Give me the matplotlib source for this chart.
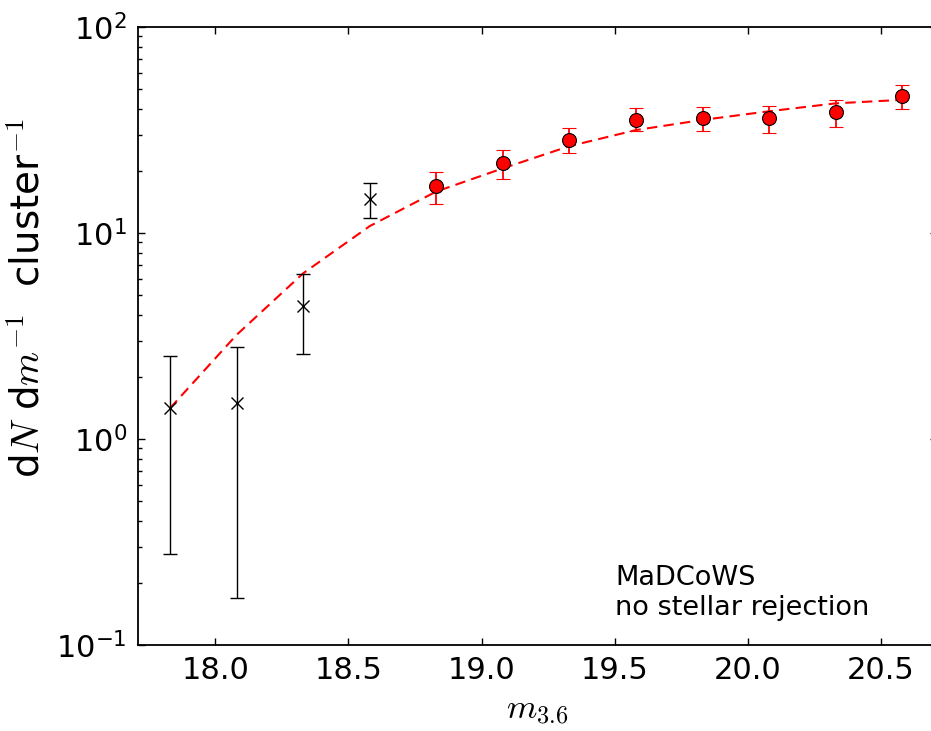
import numpy as np
import matplotlib
matplotlib.use('Agg')
import matplotlib.pyplot as plt

plt.rcParams['mathtext.fontset'] = 'cm'
plt.rcParams['font.family'] = 'DejaVu Sans'

# magnitude bins
m_excl = [17.83, 18.08, 18.33, 18.58]  # bins not used in the fit
n_excl = [1.41, 1.49, 4.42, 14.7]
hi_excl = [2.54, 2.81, 6.31, 17.5]
lo_excl = [0.275, 0.17, 2.59, 11.8]

m_fit = [18.83, 19.08, 19.33, 19.58, 19.83, 20.08, 20.33, 20.58]
n_fit = [16.9, 21.9, 28.3, 35.4, 36.2, 36.1, 38.5, 46.2]
hi_fit = [19.8, 25.3, 32.4, 40.5, 40.9, 41.4, 44.3, 52.5]
lo_fit = [13.8, 18.3, 24.4, 31.3, 31.3, 30.7, 32.7, 40.0]

# model curve evaluated at the bin centres
m_model = [17.83, 18.08, 18.33, 18.58, 18.83, 19.08, 19.33, 19.58, 19.83, 20.08, 20.33, 20.58]
n_model = [1.41, 3.2, 6.37, 10.8, 15.9, 20.6, 26.4, 31.6, 35.4, 39.0, 42.6, 44.3]

n_excl = np.array(n_excl)
n_fit = np.array(n_fit)
err_excl = [n_excl - np.array(lo_excl), np.array(hi_excl) - n_excl]
err_fit = [n_fit - np.array(lo_fit), np.array(hi_fit) - n_fit]

fig = plt.figure(figsize=(9.31, 7.31), dpi=100)
# right edge of the axes sits just outside the picture, as in the original
ax = fig.add_axes([138/931, 86/731, 799/931, 618/731])

ax.plot(m_model, n_model, color='red', lw=1.5, linestyle=(0, (5, 3)), zorder=2)
ax.errorbar(m_excl, n_excl, yerr=err_excl, fmt='x', color='k', ms=8, mew=1.0,
            elinewidth=1.0, capsize=5, capthick=1.0, zorder=3)
ax.errorbar(m_fit, n_fit, yerr=err_fit, fmt='o', color='red', mfc='red', mec='k',
            ms=10, mew=0.8, ecolor='red', elinewidth=1.3, capsize=5, capthick=1.3, zorder=4)

ax.set_yscale('log')
ax.set_ylim(0.1, 100)
ax.set_xlim(17.71, 20.71)
ax.set_xticks([18.0, 18.5, 19.0, 19.5, 20.0, 20.5])
ax.set_xticklabels(['18.0', '18.5', '19.0', '19.5', '20.0', '20.5'])
ax.set_yticks([0.1, 1, 10, 100])
ax.set_yticklabels([r'$\mathregular{10^{-1}}$', r'$\mathregular{10^{0}}$',
                    r'$\mathregular{10^{1}}$', r'$\mathregular{10^{2}}$'])

ax.tick_params(which='both', direction='in', top=True, right=True, labelsize=22)
ax.tick_params(which='major', length=5, width=1, pad=8)
ax.tick_params(which='minor', length=3, width=1)
ax.tick_params(axis='x', which='minor', bottom=False, top=False)
for s in ax.spines.values():
    s.set_linewidth(1.3)

ax.set_xlabel(r'$m_{3.6}$', fontsize=25, labelpad=6)
ax.set_ylabel(r'd$N$ d$m^{-1}$  cluster$^{-1}$', fontsize=28)
ax.yaxis.set_label_coords(-0.113, 0.561)

ax.text(0.597, 0.0485, 'MaDCoWS\nno stellar rejection', transform=ax.transAxes,
        fontsize=19.5, ha='left', va='baseline', linespacing=1.2)

fig.savefig('out.png', dpi=100)
